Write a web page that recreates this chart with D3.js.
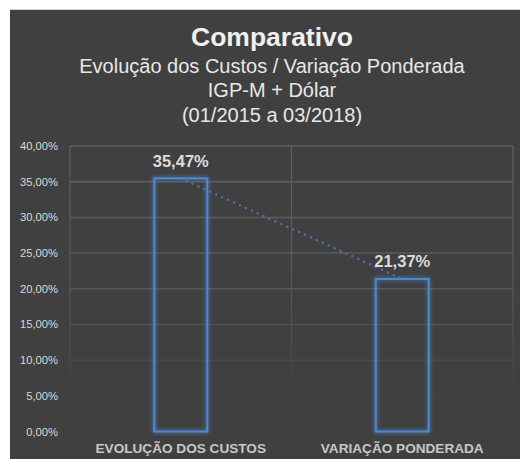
<!DOCTYPE html>
<html>
<head>
<meta charset="utf-8">
<script src="https://cdn.jsdelivr.net/npm/d3@7"></script>
<style>
  body { margin: 0; background: #fff; }
  svg { display: block; font-family: 'Liberation Sans', Arial, sans-serif; }
</style>
</head>
<body>
<script>
const categories = ['EVOLUÇÃO DOS CUSTOS', 'VARIAÇÃO PONDERADA']
const values = [35.47, 21.37]
const yTicks = [0, 5, 10, 15, 20, 25, 30, 35, 40]
const titleLines = ['Evolução dos Custos / Variação Ponderada', 'IGP-M + Dólar', '(01/2015 a 03/2018)']

const W = 520
const H = 459
const margin = { top: 146, right: 7, bottom: 27.5, left: 70 }

const fmt = v => v.toFixed(2).replace('.', ',') + '%'

function main () {
  const svg = d3.select('body')
    .append('svg')
    .attr('width', W)
    .attr('height', H)

  svg.append('rect')
    .attr('x', 10).attr('y', 9)
    .attr('width', W).attr('height', 1)
    .attr('fill', '#d4d4d4')

  svg.append('rect')
    .attr('x', 10).attr('y', 10)
    .attr('width', W).attr('height', H)
    .attr('fill', '#404040')

  const defs = svg.append('defs')
  const glow = defs.append('filter')
    .attr('id', 'glow')
    .attr('x', '-30%').attr('y', '-10%')
    .attr('width', '160%').attr('height', '120%')
  glow.append('feGaussianBlur')
    .attr('in', 'SourceGraphic')
    .attr('stdDeviation', 2)
    .attr('result', 'blur')
  const merge = glow.append('feMerge')
  merge.append('feMergeNode').attr('in', 'blur')
  merge.append('feMergeNode').attr('in', 'SourceGraphic')

  const x = d3.scaleBand()
    .domain(categories)
    .range([margin.left, W - margin.right])

  const y = d3.scaleLinear()
    .domain([0, 40])
    .range([H - margin.bottom, margin.top])

  const fade = defs.append('linearGradient')
    .attr('id', 'fade')
    .attr('gradientUnits', 'userSpaceOnUse')
    .attr('x1', 0).attr('x2', 0)
    .attr('y1', y(40)).attr('y2', y(0))
  fade.append('stop').attr('offset', 0).attr('stop-color', '#606060')
  fade.append('stop').attr('offset', 0.5).attr('stop-color', '#585858')
  fade.append('stop').attr('offset', 0.9).attr('stop-color', '#404040')

  // titles
  svg.append('text')
    .attr('x', 272).attr('y', 46)
    .attr('text-anchor', 'middle')
    .attr('fill', '#f0f0f0')
    .attr('font-size', 26.5)
    .attr('font-weight', 'bold')
    .text('Comparativo')

  svg.selectAll('.sub')
    .data(titleLines)
    .join('text')
    .attr('class', 'sub')
    .attr('x', 272)
    .attr('y', (d, i) => 72.5 + i * 24.5)
    .attr('text-anchor', 'middle')
    .attr('fill', '#e8e8e8')
    .attr('font-size', 20)
    .text(d => d)

  // grid
  const grid = svg.append('g')
  grid.selectAll('.h')
    .data(yTicks)
    .join('line')
    .attr('x1', margin.left).attr('x2', W - margin.right)
    .attr('y1', d => y(d)).attr('y2', d => y(d))
    .attr('stroke', 'url(#fade)')
    .attr('stroke-width', 1.5)

  const vx = [margin.left, margin.left + x.step(), W - margin.right]
  grid.selectAll('.v')
    .data(vx)
    .join('line')
    .attr('x1', d => d).attr('x2', d => d)
    .attr('y1', y(40)).attr('y2', y(0))
    .attr('stroke', 'url(#fade)')
    .attr('stroke-width', 1.2)

  // y labels
  svg.append('g')
    .selectAll('text')
    .data(yTicks)
    .join('text')
    .attr('x', 58)
    .attr('y', d => y(d) + 4)
    .attr('text-anchor', 'end')
    .attr('fill', '#d9d9d9')
    .attr('font-size', 11.2)
    .text(fmt)

  const bw = 53
  const cx = d => x(d) + x.bandwidth() / 2

  // dotted trend line
  svg.append('path')
    .datum(categories.map((c, i) => [cx(c), y(values[i])]))
    .attr('d', d3.line())
    .attr('fill', 'none')
    .attr('stroke', '#4a74a8')
    .attr('stroke-width', 2.5)
    .attr('stroke-linecap', 'round')
    .attr('stroke-dasharray', '0 6.5')

  // bars
  svg.append('g')
    .selectAll('rect')
    .data(categories)
    .join('rect')
    .attr('x', d => cx(d) - bw / 2)
    .attr('y', (d, i) => y(values[i]))
    .attr('width', bw)
    .attr('height', (d, i) => y(0) - y(values[i]))
    .attr('fill', 'none')
    .attr('stroke', '#4f88cf')
    .attr('stroke-width', 2)
    .attr('filter', 'url(#glow)')

  // value labels
  svg.append('g')
    .selectAll('text')
    .data(categories)
    .join('text')
    .attr('x', d => cx(d))
    .attr('y', (d, i) => y(values[i]) - 11.5)
    .attr('text-anchor', 'middle')
    .attr('fill', '#dcdcdc')
    .attr('font-size', 16.5)
    .attr('font-weight', 'bold')
    .text((d, i) => fmt(values[i]))

  // category labels
  svg.append('g')
    .selectAll('text')
    .data(categories)
    .join('text')
    .attr('x', d => cx(d))
    .attr('y', 453)
    .attr('text-anchor', 'middle')
    .attr('fill', '#c8c8c8')
    .attr('font-size', 13.6)
    .attr('font-weight', 'bold')
    .text(d => d)
}

main()
</script>
</body>
</html>
